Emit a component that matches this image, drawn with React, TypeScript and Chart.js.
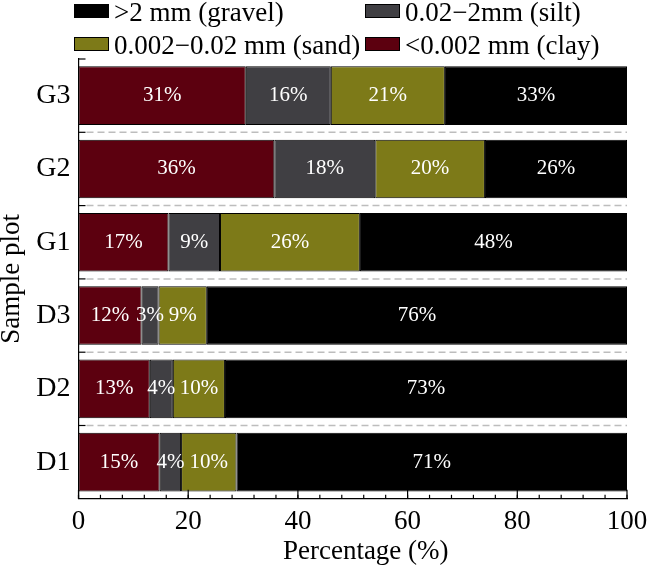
import React, { useEffect, useRef } from "react";
import { Chart, registerables } from "chart.js";

Chart.register(...registerables);

const categories = ["G3", "G2", "G1", "D3", "D2", "D1"];
const clay = [30.5, 35.7, 16.4, 11.5, 13.0, 14.8];
const silt = [15.5, 18.4, 9.4, 3.1, 4.2, 3.9];
const sand = [20.8, 20.0, 25.5, 8.8, 9.5, 10.1];
const gravel = [33.2, 25.9, 48.7, 76.6, 73.3, 71.2];
const clayLabels = ["31%", "36%", "17%", "12%", "13%", "15%"];
const siltLabels = ["16%", "18%", "9%", "3%", "4%", "4%"];
const sandLabels = ["21%", "20%", "26%", "9%", "10%", "10%"];
const gravelLabels = ["33%", "26%", "48%", "76%", "73%", "71%"];
const seriesNames = ["<0.002 mm (clay)", "0.02\u22122mm (silt)", "0.002\u22120.02 mm (sand)", ">2 mm (gravel)"];
const xTicks = [0, 20, 40, 60, 80, 100];
const xTitle = "Percentage (%)";
const yTitle = "Sample plot";

const FONT = "'Liberation Serif', 'Times New Roman', serif";
const COLORS = ["#5c000f", "#403f43", "#7d7a18", "#000000"];

const labelPlugin = {
  id: "customDraw",
  beforeDatasetsDraw(chart: any) {
    const ctx = chart.ctx;
    const { left, right } = chart.chartArea;
    const y = chart.scales.y;
    ctx.save();
    ctx.strokeStyle = "#bdbdbd";
    ctx.lineWidth = 1.5;
    ctx.setLineDash([7, 4]);
    for (let i = 1; i < categories.length; i++) {
      const py = (y.getPixelForValue(i - 1) + y.getPixelForValue(i)) / 2;
      ctx.beginPath();
      ctx.moveTo(left + 8, py);
      ctx.lineTo(right, py);
      ctx.stroke();
    }
    ctx.restore();
  },
  afterDatasetsDraw(chart: any) {
    const ctx = chart.ctx;
    const { left, right, top, bottom } = chart.chartArea;
    const y = chart.scales.y;
    const x = chart.scales.x;
    const labelSets = [clayLabels, siltLabels, sandLabels, gravelLabels];
    ctx.save();
    ctx.fillStyle = "#ffffff";
    ctx.font = `21px ${FONT}`;
    ctx.textAlign = "center";
    ctx.textBaseline = "middle";
    chart.data.datasets.forEach((ds: any, di: number) => {
      const meta = chart.getDatasetMeta(di);
      meta.data.forEach((el: any, i: number) => {
        const cx = (el.x + el.base) / 2;
        ctx.fillText(labelSets[di][i], cx, el.y);
      });
    });
    ctx.strokeStyle = "#000";
    ctx.lineWidth = 1.2;
    for (let i = 0; i < categories.length; i++) {
      const py = i === 0 ? top : (y.getPixelForValue(i - 1) + y.getPixelForValue(i)) / 2;
      ctx.beginPath();
      ctx.moveTo(left, py);
      ctx.lineTo(left + 7, py);
      ctx.stroke();
    }
    for (let v = 0; v <= 100; v += 4) {
      const px = x.getPixelForValue(v);
      ctx.beginPath();
      ctx.moveTo(px, bottom);
      ctx.lineTo(px, bottom - 4);
      ctx.stroke();
    }
    xTicks.forEach((v) => {
      const px = x.getPixelForValue(v);
      ctx.beginPath();
      ctx.moveTo(px, bottom);
      ctx.lineTo(px, bottom - 9);
      ctx.stroke();
    });
    // x axis title (slightly right of plot centre, as in the reference)
    ctx.fillStyle = "#000";
    ctx.font = `27px ${FONT}`;
    ctx.textAlign = "center";
    ctx.textBaseline = "alphabetic";
    ctx.fillText(xTitle, (left + right) / 2 + 13, 559);
    ctx.restore();
  },
  afterDraw(chart: any) {
    const ctx = chart.ctx;
    ctx.save();
    const items = [
      { di: 3, col: 0, row: 0 },
      { di: 1, col: 1, row: 0 },
      { di: 2, col: 0, row: 1 },
      { di: 0, col: 1, row: 1 },
    ];
    const colX = [74, 365];
    const rowY = [4, 37];
    ctx.font = `27px ${FONT}`;
    ctx.textAlign = "left";
    ctx.textBaseline = "alphabetic";
    items.forEach((it) => {
      const bx = colX[it.col];
      const by = rowY[it.row];
      ctx.fillStyle = COLORS[it.di];
      ctx.fillRect(bx, by, 35, 14);
      ctx.strokeStyle = "#000";
      ctx.lineWidth = 1;
      ctx.strokeRect(bx + 0.5, by + 0.5, 34, 13);
      ctx.fillStyle = "#000";
      ctx.fillText(seriesNames[it.di], bx + 40, by + 16.5);
    });
    ctx.restore();
  },
};

export default function App() {
  const ref = useRef<HTMLCanvasElement>(null);
  useEffect(() => {
    document.body.style.margin = "0";
    const chart = new Chart(ref.current!, {
      type: "bar",
      data: {
        labels: categories,
        datasets: [clay, silt, sand, gravel].map((d, i) => ({
          label: seriesNames[i],
          data: d,
          backgroundColor: COLORS[i],
          borderColor: "#000",
          borderWidth: 1,
          borderSkipped: false,
          categoryPercentage: 0.8,
          barPercentage: 1.0,
        })),
      },
      options: {
        indexAxis: "y",
        animation: false,
        responsive: true,
        maintainAspectRatio: false,
        layout: { padding: { top: 59, right: 23, left: 0, bottom: 0 } },
        plugins: { legend: { display: false }, tooltip: { enabled: false } },
        scales: {
          x: {
            stacked: true,
            min: 0,
            max: 100,
            afterFit: (s: any) => { s.height = 67.2; s.paddingLeft = 0; s.paddingRight = 0; },
            afterBuildTicks: (s: any) => { s.ticks = xTicks.map((v) => ({ value: v })); },
            grid: { display: false, drawTicks: false },
            border: { display: true, color: "#000", width: 1.2 },
            ticks: { color: "#000", font: { family: FONT, size: 27 }, padding: 7, maxRotation: 0 },
            title: { display: false },
          },
          y: {
            stacked: true,
            afterFit: (s: any) => { s.width = 78.5; s.paddingTop = 0; s.paddingBottom = 0; },
            grid: { display: false, drawTicks: false },
            border: { display: true, color: "#000", width: 1.2 },
            ticks: { color: "#000", font: { family: FONT, size: 28 }, padding: 8 },
            title: {
              display: true,
              text: yTitle,
              color: "#000",
              font: { family: FONT, size: 27, lineHeight: 0.9 },
              padding: { top: 0, bottom: 0 },
            },
          },
        },
      },
      plugins: [labelPlugin],
    });
    return () => chart.destroy();
  }, []);
  return (
    <div style={{ width: 650, height: 566, position: "relative" }}>
      <canvas ref={ref} />
    </div>
  );
}
